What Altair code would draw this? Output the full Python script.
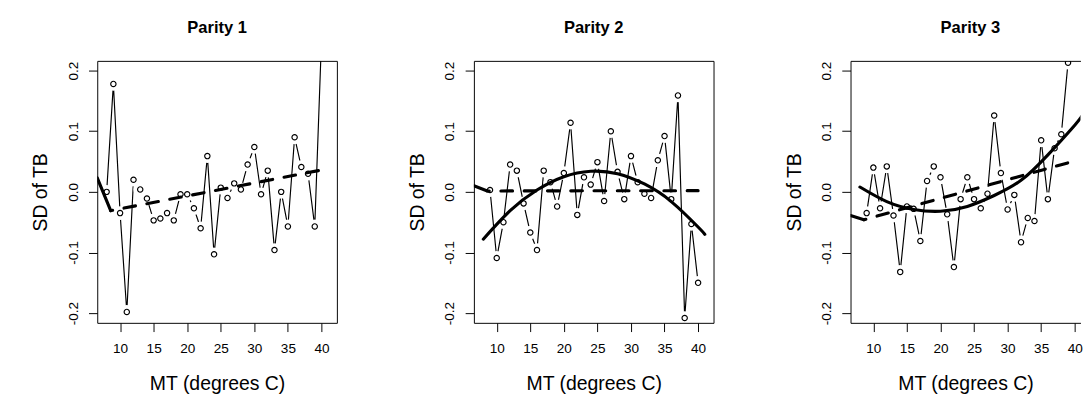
import altair as alt
import pandas as pd

FONT = "Liberation Sans"

# ---- data ----
p1_mt = list(range(8, 41))
p1_sd = [0.000, 0.178, -0.035, -0.198, 0.020, 0.004, -0.011, -0.047, -0.044, -0.035,
         -0.047, -0.004, -0.004, -0.027, -0.060, 0.059, -0.103, 0.007, -0.010, 0.014,
         0.004, 0.045, 0.074, -0.004, 0.035, -0.096, 0.000, -0.057, 0.090, 0.041,
         0.030, -0.057, 0.250]

p2_mt = list(range(9, 41))
p2_sd = [0.003, -0.109, -0.050, 0.045, 0.035, -0.019, -0.067, -0.096, 0.035, 0.016,
         -0.024, 0.031, 0.114, -0.038, 0.024, 0.012, 0.049, -0.015, 0.100, 0.033,
         -0.012, 0.059, 0.016, -0.003, -0.010, 0.052, 0.092, -0.012, 0.159, -0.208,
         -0.053, -0.150]

p3_mt = list(range(9, 41))
p3_sd = [-0.035, 0.040, -0.027, 0.042, -0.039, -0.132, -0.024, -0.028, -0.081, 0.018,
         0.042, 0.024, -0.037, -0.124, -0.012, 0.024, -0.012, -0.027, -0.003, 0.126,
         0.031, -0.029, -0.005, -0.083, -0.043, -0.048, 0.085, -0.012, 0.072, 0.095,
         0.213, 0.260]

# quadratic fits (solid, thick)
curve_mt = [8, 12, 16, 20, 24, 28, 32, 36, 40, 41]
p2_curve = [-0.078, -0.031, 0.003, 0.025, 0.034, 0.030, 0.013, -0.016, -0.058, -0.070]
p3_curve = [0.008, -0.016, -0.029, -0.032, -0.024, -0.006, 0.019, 0.061, 0.110, 0.124]

# broken-line fits (dashed, thick): first piece, then the rest
seg_mt = [6.6, 8.6, 40]
p1_seg = [0.023, -0.031, 0.036]
p2_seg = [0.010, 0.0015, 0.002]
p3_seg = [-0.039, -0.046, 0.051]

x_ticks = [10, 15, 20, 25, 30, 35, 40]
y_ticks = [-0.2, -0.1, 0.0, 0.1, 0.2]

H = 270
W = 247
X_MIN = 6.6
X_MAX = 42.3
Y_DOM = [-0.216, 0.216]


def panel(title, mt, sd, seg, curve=None, width=W, xmax=X_MAX, right_frame=True, title_dx=0):
    xs = alt.Scale(domain=[X_MIN, xmax], nice=False, zero=False)
    ys = alt.Scale(domain=Y_DOM, nice=False, zero=False)
    pts = pd.DataFrame({"MT": mt, "SD": sd})

    def enc(axis_x=None, axis_y=None):
        return dict(
            x=alt.X("MT:Q", scale=xs, axis=axis_x),
            y=alt.Y("SD:Q", scale=ys, axis=axis_y),
        )

    line = alt.Chart(pts).mark_line(color="black", strokeWidth=1.2, clip=True,
                                    strokeCap="round").encode(**enc())
    halo = alt.Chart(pts).mark_point(filled=True, fill="white", opacity=1, size=200,
                                     strokeWidth=0, clip=True).encode(**enc())
    circ = alt.Chart(pts).mark_point(filled=False, color="black", size=30, opacity=1,
                                     strokeWidth=1.2, clip=True).encode(**enc())
    layers = [line, halo, circ]

    if curve is not None:
        cdf = pd.DataFrame({"MT": curve_mt, "SD": curve})
        layers.append(alt.Chart(cdf).mark_line(color="black", strokeWidth=3.2, clip=True,
                                               interpolate="natural", strokeCap="round")
                      .encode(**enc()))

    first = pd.DataFrame({"MT": seg_mt[:2], "SD": seg[:2]})
    rest = pd.DataFrame({"MT": seg_mt[1:], "SD": seg[1:]})
    layers.append(alt.Chart(first).mark_line(color="black", strokeWidth=3.2, clip=True,
                                             strokeCap="round").encode(**enc()))
    layers.append(alt.Chart(rest).mark_line(color="black", strokeWidth=3.2, clip=True,
                                            strokeDash=[12, 12], strokeDashOffset=-14,
                                            strokeCap="round").encode(**enc()))

    x_axis = alt.Axis(values=x_ticks, tickSize=9, tickColor="black", tickWidth=1,
                      domainColor="black", domainWidth=1, labelFont=FONT, labelFontSize=14,
                      labelColor="black", labelPadding=11, labelFlush=False,
                      title="MT (degrees C)", titleFont=FONT, titleFontSize=20,
                      titleFontWeight="normal", titleColor="black", titlePadding=19,
                      grid=False, zindex=2)
    y_axis = alt.Axis(values=y_ticks, tickSize=9, tickColor="black", tickWidth=1,
                      domainColor="black", domainWidth=1, labelFont=FONT, labelFontSize=14,
                      labelColor="black", labelPadding=8.5, labelAngle=-90,
                      labelAlign="center", labelBaseline="bottom",
                      labelExpr="datum.value < 0 ? '-' + format(-datum.value, '.1f') : format(datum.value, '.1f')",
                      title="SD of TB", titleFont=FONT, titleFontSize=20,
                      titleFontWeight="normal", titleColor="black", titlePadding=16.5,
                      grid=False, zindex=2)
    axes = alt.Chart(pts).mark_point(opacity=0, clip=True).encode(**enc(x_axis, y_axis))

    top_axis = alt.Axis(orient="top", labels=False, ticks=False, domainColor="black",
                        domainWidth=1, title=None, grid=False, zindex=2)
    if right_frame:
        right_axis = alt.Axis(orient="right", labels=False, ticks=False, domainColor="black",
                              domainWidth=1, title=None, grid=False, zindex=2)
        frame = alt.Chart(pts).mark_point(opacity=0, clip=True).encode(**enc(top_axis, right_axis))
    else:
        frame = alt.Chart(pts).mark_point(opacity=0, clip=True).encode(**enc(top_axis, None))

    layers += [axes, frame]
    return alt.layer(*layers).resolve_axis(x="independent", y="independent").properties(
        width=width, height=H,
        title=alt.TitleParams(title, font=FONT, fontSize=17, fontWeight="bold", color="black",
                              anchor="middle", frame="group", offset=24.5, dx=title_dx),
    )


W3 = 237
xmax3 = X_MIN + W3 * (X_MAX - X_MIN) / W

right_pair = alt.hconcat(
    panel("Parity 2", p2_mt, p2_sd, p2_seg, curve=p2_curve),
    panel("Parity 3", p3_mt, p3_sd, p3_seg, curve=p3_curve, width=W3, xmax=xmax3,
          right_frame=False, title_dx=5),
    spacing=73.2,
)

chart = alt.hconcat(
    panel("Parity 1", p1_mt, p1_sd, p1_seg),
    right_pair,
    spacing=73.2,
).properties(
    padding={"left": 24, "top": 5.5, "right": 0, "bottom": 0},
    background="white",
).configure_view(strokeWidth=0)

chart.save("out.html", embed_options={"renderer": "svg", "actions": False})
